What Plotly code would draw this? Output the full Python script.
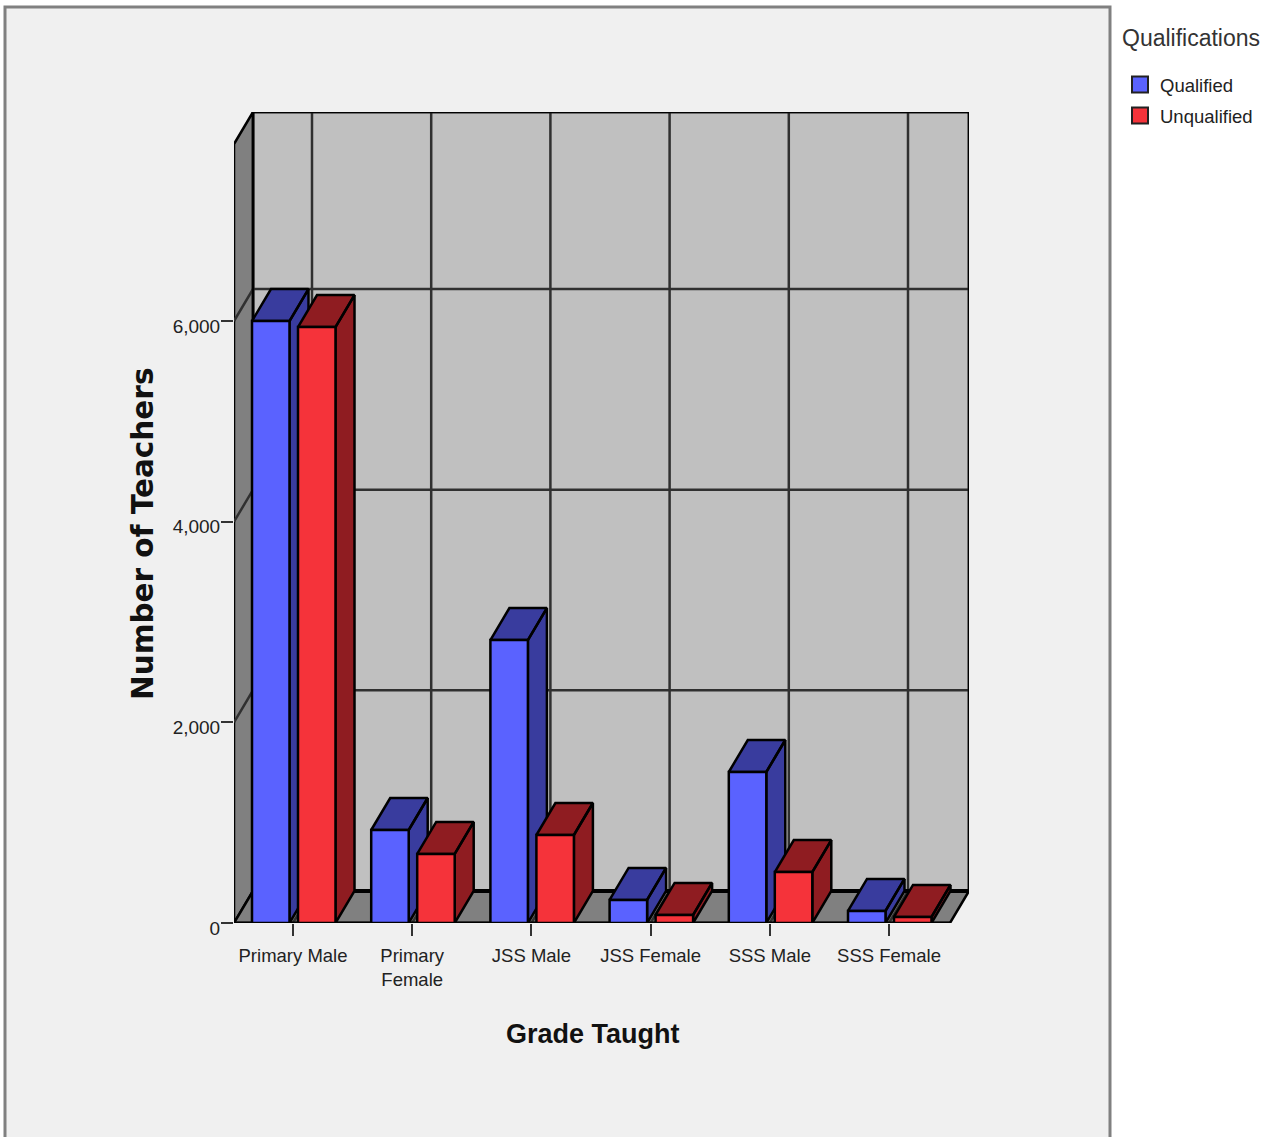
import plotly.graph_objects as go

categories = ["Primary Male", "Primary<br>Female", "JSS Male", "JSS Female", "SSS Male", "SSS Female"]
qualified = [6000, 927, 2820, 230, 1505, 120]
unqualified = [5940, 688, 877, 80, 508, 60]
y_ticks = [0, 2000, 4000, 6000]
y_tick_labels = ["0", "2,000", "4,000", "6,000"]

W, H = 1267, 1137
FONT = "Liberation Sans"
PX_X = 119.2          # pixels per category
PX_Y = 0.10033        # pixels per teacher
DX = 19 / PX_X        # depth shift, in category units
DY = 32 / PX_Y        # depth shift, in teacher units
XR = [(234 - 293) / PX_X, (969 - 293) / PX_X]
YR = [0, (923 - 112) / PX_Y]
BAR_W = 37.5 / PX_X
BLUE_OFF = -41 / PX_X
RED_OFF = 5 / PX_X
idx = list(range(len(categories)))


def polys(items):
    xs, ys = [], []
    for p in items:
        xs += [q[0] for q in p] + [p[0][0], None]
        ys += [q[1] for q in p] + [p[0][1], None]
    return xs, ys


fig = go.Figure()


def face(items, color, width=2.5, line="#000000"):
    xs, ys = polys(items)
    fig.add_trace(go.Scatter(x=xs, y=ys, mode="lines", fill="toself", fillcolor=color, cliponaxis=False,
                             line=dict(color=line, width=width), hoverinfo="skip", showlegend=False))


def lines(xs, ys, color="#303030", width=2.5):
    fig.add_trace(go.Scatter(x=xs, y=ys, mode="lines", line=dict(color=color, width=width), cliponaxis=False,
                             hoverinfo="skip", showlegend=False))


x0, x1 = XR[0], XR[1] - DX
top = YR[1]
# walls and floor
face([[(x0 + DX, DY), (XR[1], DY), (XR[1], top), (x0 + DX, top)]], "#c0c0c0")
face([[(x0, 0), (x0 + DX, DY), (x0 + DX, top), (x0, top - DY)]], "#808080")
face([[(x0, 0), (x0 + DX, DY), (XR[1], DY), (x1, 0)]], "#808080")

# gridlines on back and side walls
gx, gy = [], []
for v in y_ticks[1:]:
    gx += [x0, x0 + DX, XR[1], None]
    gy += [v, v + DY, v + DY, None]
lines(gx, gy)
vx, vy = [], []
for i in idx:
    vx += [i, i + DX, i + DX, None]
    vy += [0, DY, top, None]
lines(vx, vy)
lines([x0 + DX, XR[1]], [DY, DY], "#000000", 4)
lines([x0 + DX, XR[1], XR[1], x0 + DX, x0 + DX], [DY, DY, top, top, DY], "#000000", 2.5)

# side and top faces, per series
for vals, off, dark in [(qualified, BLUE_OFF, "#393c9e"), (unqualified, RED_OFF, "#8f1c21")]:
    items = []
    for i, v in zip(idx, vals):
        l, r = i + off, i + off + BAR_W
        items.append([(r, 0), (r + DX, DY), (r + DX, v + DY), (r, v)])
        items.append([(l, v), (l + DX, v + DY), (r + DX, v + DY), (r, v)])
    face(items, dark)

lines([x0, x1], [0, 0], "#000000", 3)

# front faces
fig.add_trace(go.Bar(x=idx, y=qualified, name="Qualified", width=BAR_W, offset=BLUE_OFF, xaxis="x2", yaxis="y2",
                     cliponaxis=False,
                     marker=dict(color="#5a62ff", line=dict(color="#000000", width=2.5)), showlegend=False))
fig.add_trace(go.Bar(x=idx, y=unqualified, name="Unqualified", width=BAR_W, offset=RED_OFF, xaxis="x2", yaxis="y2",
                     cliponaxis=False,
                     marker=dict(color="#f5333a", line=dict(color="#000000", width=2.5)), showlegend=False))

# legend entries
for name, c in [("Qualified", "#5a62ff"), ("Unqualified", "#f5333a")]:
    fig.add_trace(go.Scatter(x=[None], y=[None], mode="markers", name=name, legendgroup=name,
                             marker=dict(symbol="square", size=16, color=c, line=dict(color="#222222", width=2))))

dom_x = [234 / W, 969 / W]
dom_y = [1 - 923 / H, 1 - 112 / H]
fig.update_layout(
    width=W, height=H, margin=dict(l=0, r=0, t=0, b=0, autoexpand=False), autosize=False,
    paper_bgcolor="#ffffff", plot_bgcolor="rgba(0,0,0,0)",
    barmode="overlay",
    font=dict(family=FONT, color="#222222", size=19),
    xaxis=dict(domain=dom_x, range=XR, tickmode="array", tickvals=idx, ticktext=categories,
               ticks="outside", ticklen=12, tickwidth=2, tickcolor="#333333", ticklabelstandoff=4,
               showgrid=False, zeroline=False, showline=False, tickfont=dict(size=18.5, family=FONT)),
    yaxis=dict(domain=dom_y, range=YR, tickmode="array", tickvals=y_ticks, ticktext=y_tick_labels,
               ticks="outside", ticklen=12, tickwidth=2, tickcolor="#333333",
               ticklabelstandoff=-3, ticklabelshift=5,
               showgrid=False, zeroline=False, showline=False, tickfont=dict(size=19, family=FONT)),
    xaxis2=dict(domain=dom_x, range=XR, overlaying="x", visible=False),
    yaxis2=dict(domain=dom_y, range=YR, overlaying="y", visible=False),
    shapes=[dict(type="rect", xref="paper", yref="paper", x0=5 / W, x1=1110 / W, y0=-0.01, y1=1 - 7 / H,
                 fillcolor="#f0f0f0", line=dict(color="#808080", width=3), layer="below")],
    annotations=[
        dict(text="<b>Number of Teachers</b>", xref="paper", yref="paper", x=143 / W, y=1 - 534 / H, textangle=-90,
             showarrow=False, xanchor="center", yanchor="middle",
             font=dict(family="DejaVu Sans", size=29.5, color="#111111")),
        dict(text="<b>Grade Taught</b>", xref="paper", yref="paper", x=593 / W, y=1 - 1034 / H,
             showarrow=False, xanchor="center", yanchor="middle",
             font=dict(family=FONT, size=27, color="#111111")),
        dict(text="Qualifications", xref="paper", yref="paper", x=1120 / W, y=1 - 38 / H,
             showarrow=False, xanchor="left", yanchor="middle",
             font=dict(family=FONT, size=23, color="#333333")),
    ],
    legend=dict(x=1120 / W, y=1 - 66 / H, xanchor="left", yanchor="top", bgcolor="rgba(0,0,0,0)",
                font=dict(family=FONT, size=18.5, color="#222222"), itemsizing="trace",
                itemwidth=30, tracegroupgap=4),
)
fig.write_html("out.html", post_script="document.body.style.margin='0';",
               config={"displayModeBar": False})
